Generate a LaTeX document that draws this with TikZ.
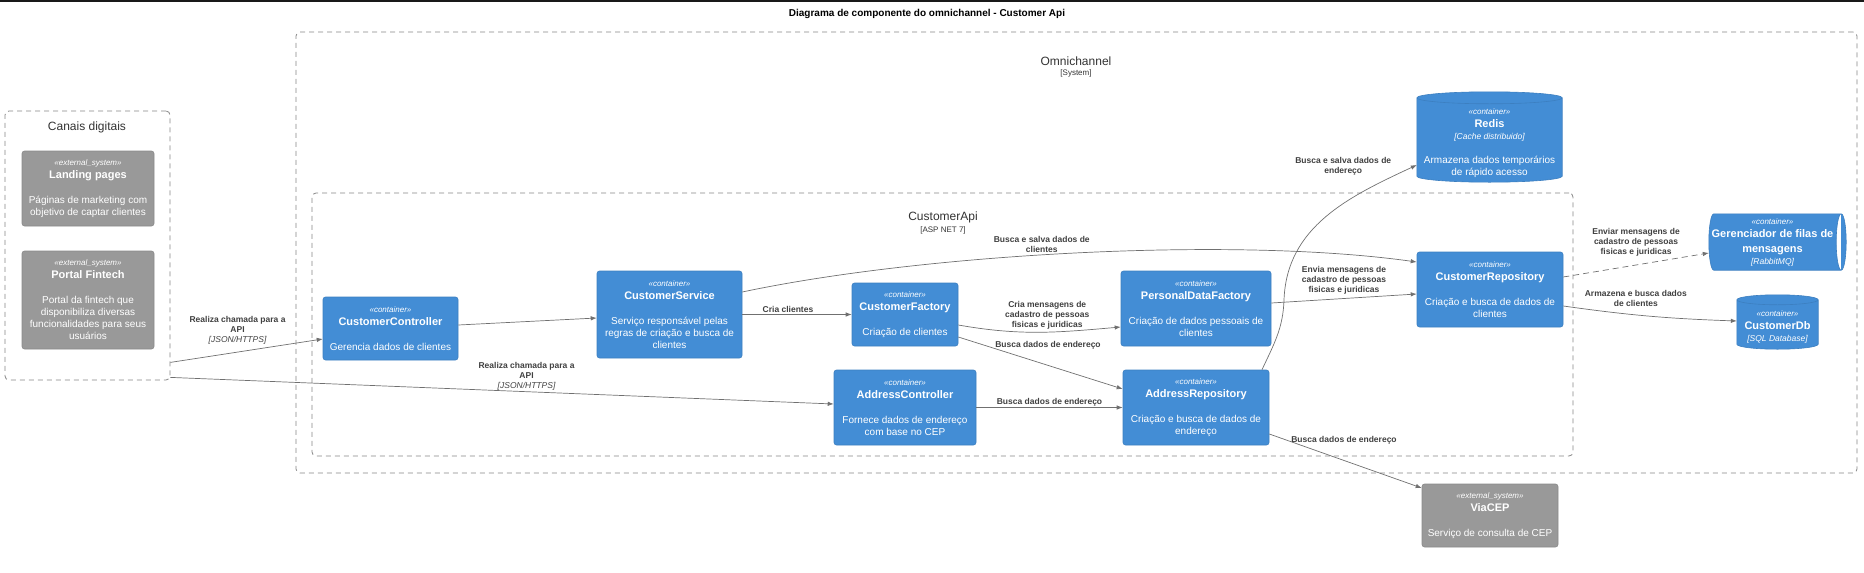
\documentclass[tikz,border=0pt]{standalone}
\usepackage{fontspec}
\setmainfont{Liberation Sans}
\usetikzlibrary{positioning,calc,arrows.meta,backgrounds}

\definecolor{c4blue}{HTML}{438DD5}
\definecolor{c4blueline}{HTML}{3C7FC0}
\definecolor{c4gray}{HTML}{999999}
\definecolor{c4grayline}{HTML}{8A8A8A}
\definecolor{bndline}{HTML}{858585}
\definecolor{relline}{HTML}{707070}
\definecolor{reltext}{HTML}{404040}
\definecolor{bndtext}{HTML}{333333}

\newcommand{\stype}[1]{{\fontsize{8}{9}\selectfont\itshape «#1»}}
\newcommand{\cname}[1]{{\fontsize{11}{13}\selectfont\bfseries #1}}
\newcommand{\ctech}[1]{{\fontsize{8.5}{10}\selectfont\itshape [#1]}}
\newcommand{\reltech}[1]{{\mdseries\itshape [#1]}}

% cylinder round a body node: #1 node, #2 cap radius
\newcommand{\dbcylinder}[2]{%
  \path[dbshape] let \p1=(#1.north west), \p2=(#1.south east), \n1={(\x2-\x1)/2} in
    (\x1,{\y1+#2pt}) -- (\x1,{\y2+#2pt}) arc[start angle=180,end angle=360,x radius=\n1,y radius=#2pt]
    -- (\x2,{\y1+#2pt}) arc[start angle=0,end angle=180,x radius=\n1,y radius=#2pt] -- cycle
    (\x1,{\y1+#2pt}) arc[start angle=180,end angle=360,x radius=\n1,y radius=#2pt];}
\newcommand{\queuecylinder}[2]{%
  \path[dbshape] let \p1=(#1.north west), \p2=(#1.south east), \n1={(\y1-\y2)/2} in
    ({\x1+#2pt},\y1) -- ({\x2+#2pt},\y1) arc[start angle=90,end angle=-90,x radius=#2pt,y radius=\n1]
    -- ({\x1+#2pt},\y2) arc[start angle=270,end angle=90,x radius=#2pt,y radius=\n1] -- cycle
    ({\x2+#2pt},\y1) arc[start angle=90,end angle=270,x radius=#2pt,y radius=\n1];}

\begin{document}
\begin{tikzpicture}[x=1pt,y=1pt,font=\fontsize{10}{12}\selectfont]
\tikzset{container/.style={rectangle,rounded corners=2.5pt,fill=c4blue,draw=c4blueline,line width=0.6pt,text=white,align=center,inner sep=1pt},
  extsystem/.style={container,fill=c4gray,draw=c4grayline},
  dbbody/.style={rectangle,draw=none,text=white,align=center,inner sep=1pt},
  dbshape/.style={fill=c4blue,draw=c4blueline,line width=0.6pt},
  boundary/.style={rectangle,draw=bndline,line width=0.8pt,dash pattern=on 5pt off 4pt,rounded corners=4pt},
  btitle/.style={text=bndtext,font=\fontsize{12}{14}\selectfont,inner sep=0pt},
  btech/.style={text=bndtext,font=\fontsize{8}{10}\selectfont,inner sep=0pt},
  rel/.style={draw=relline,line width=0.7pt,-{Latex[length=6pt,width=4.5pt]}},
  rellabel/.style={text=reltext,font=\fontsize{8.5}{10}\selectfont\bfseries,align=center,inner sep=1pt}}

\useasboundingbox (0,0) rectangle (1864,-573);
\fill[black!90] (0,0) rectangle (1864,-2);

  \node(TT) [font=\fontsize{10}{12}\selectfont\bfseries] at (927,-14) {Diagrama de componente do omnichannel - Customer Api};

  % boundaries
  \node(OM) [boundary,minimum width=1561,minimum height=441] at (1076.5,-252.5) {};
  \node(OMT) [btitle] at (1076,-61) {Omnichannel};
  \node(OMS) [btech,below=4pt of OMT] {[System]};
  \node(CD) [boundary,minimum width=165,minimum height=269] at (87.5,-245.5) {};
  \node(CDT) [btitle] at (87,-127) {Canais digitais};
  \node(CA) [boundary,minimum width=1261,minimum height=263] at (942.5,-324.5) {};
  \node(CAT) [btitle] at (943,-217) {CustomerApi};
  \node(CAS) [btech,below=4pt of CAT] {[ASP NET 7]};

  % external systems
  \node(LP) [extsystem,minimum width=132,minimum height=75] at (88,-188.5) {\stype{external\_system}\\[1pt]\cname{Landing pages}\\[13pt]Páginas de marketing com\\objetivo de captar clientes};
  \node(PF) [extsystem,minimum width=132,minimum height=98] at (88,-300) {\stype{external\_system}\\[1pt]\cname{Portal Fintech}\\[13pt]Portal da fintech que\\disponibiliza diversas\\funcionalidades para seus\\usuários};
  \node(VC) [extsystem,minimum width=136,minimum height=63] at (1490,-515.5) {\stype{external\_system}\\[1pt]\cname{ViaCEP}\\[13pt]Serviço de consulta de CEP};

  % containers
  \node(CC) [container,minimum width=135,minimum height=63] at (390.5,-328.5) {\stype{container}\\[1pt]\cname{CustomerController}\\[13pt]Gerencia dados de clientes};
  \node(CS) [container,minimum width=145,minimum height=87] at (669.5,-314.5) {\stype{container}\\[1pt]\cname{CustomerService}\\[13pt]Serviço responsável pelas\\regras de criação e busca de\\clientes};
  \node(CF) [container,minimum width=106,minimum height=63] at (905,-314.5) {\stype{container}\\[1pt]\cname{CustomerFactory}\\[13pt]Criação de clientes};
  \node(PD) [container,minimum width=150,minimum height=75] at (1196,-308.5) {\stype{container}\\[1pt]\cname{PersonalDataFactory}\\[13pt]Criação de dados pessoais de\\clientes};
  \node(AC) [container,minimum width=142,minimum height=75] at (905,-407.5) {\stype{container}\\[1pt]\cname{AddressController}\\[13pt]Fornece dados de endereço\\com base no CEP};
  \node(AR) [container,minimum width=146,minimum height=75] at (1196,-407.5) {\stype{container}\\[1pt]\cname{AddressRepository}\\[13pt]Criação e busca de dados de\\endereço};
  \node(CR) [container,minimum width=146,minimum height=75] at (1490,-289.5) {\stype{container}\\[1pt]\cname{CustomerRepository}\\[13pt]Criação e busca de dados de\\clientes};

  \node(RD) [dbbody,minimum width=145,minimum height=78] at (1489.5,-143) {\stype{container}\\[1pt]\cname{Redis}\\\ctech{Cache distribuido}\\[12pt]Armazena dados temporários\\de rápido acesso};
  \node(MQ) [dbbody,minimum width=127,minimum height=56] at (1772.5,-242) {\stype{container}\\[1pt]\cname{Gerenciador de filas de}\\[3pt]\cname{mensagens}\\\ctech{RabbitMQ}};
  \node(DB) [dbbody,minimum width=81,minimum height=44] at (1777.5,-327) {\stype{container}\\[1pt]\cname{CustomerDb}\\\ctech{SQL Database}};

\begin{scope}[on background layer]
  \dbcylinder{RD}{6}
  \dbcylinder{DB}{5}
  \queuecylinder{MQ}{5}
\end{scope}

  \draw[rel] ([yshift=18]CD.south east) -- node[rellabel,midway,xshift=-9,yshift=20.5] {Realiza chamada para a\\API\\\reltech{JSON/HTTPS}} ([yshift=-10.5]CC.west);
  \draw[rel] ([yshift=3]CD.south east) -- node[rellabel,midway,xshift=24.5,yshift=14.5] {Realiza chamada para a\\API\\\reltech{JSON/HTTPS}} ([yshift=3.5]AC.west);
  \draw[rel] ([yshift=3.5]CC.east) -- ([yshift=-3.5]CS.west);
  \draw[rel] (CS.east) -- node[rellabel,midway,xshift=-9,yshift=5.5] {Cria clientes} (CF.west);
  \draw[rel] ([yshift=22.5]CS.east) to[out=12,in=172,looseness=0.7] node[rellabel,pos=0.45,above=1pt] {Busca e salva dados de\\clientes} ([yshift=27.5]CR.west);
  \draw[rel] ([yshift=-10.5]CF.east) to[out=-10,in=185] node[rellabel,midway,above=2pt,xshift=8] {Cria mensagens de\\cadastro de pessoas\\fisicas e juridicas} ([yshift=-18.5]PD.west);
  \draw[rel] ([yshift=-22.5]CF.east) -- node[rellabel,midway,xshift=7.5,yshift=18] {Busca dados de endereço} ([yshift=18.5]AR.west);
  \draw[rel] (AC.east) -- node[rellabel,midway,above=-0.5pt] {Busca dados de endereço} (AR.west);
  \draw[rel] ([yshift=5.5]PD.east) -- node[rellabel,midway,yshift=18.5] {Envia mensagens de\\cadastro de pessoas\\fisicas e juridicas} ([yshift=-4.5]CR.west);
  \draw[rel] ([xshift=66]AR.north) to[out=65,in=-92] (1284,-300) to[out=88,in=205] node[rellabel,midway,xshift=17,yshift=50] {Busca e salva dados de\\endereço} ([yshift=-22]RD.west);
  \draw[rel,dash pattern=on 6pt off 4pt] ([yshift=12.5]CR.east) -- node[rellabel,midway,yshift=23] {Enviar mensagens de\\cadastro de pessoas\\fisicas e juridicas} ([yshift=-11]MQ.west);
  \draw[rel] ([yshift=-16.5]CR.east) to[out=-8,in=178] node[rellabel,midway,xshift=-14,yshift=17.5] {Armazena e busca dados\\de clientes} ([yshift=6]DB.west);
  \draw[rel] ([yshift=-26.5]AR.east) -- node[rellabel,midway,xshift=-1.5,yshift=21] {Busca dados de endereço} ([yshift=27.5]VC.west);
\end{tikzpicture}
\end{document}
